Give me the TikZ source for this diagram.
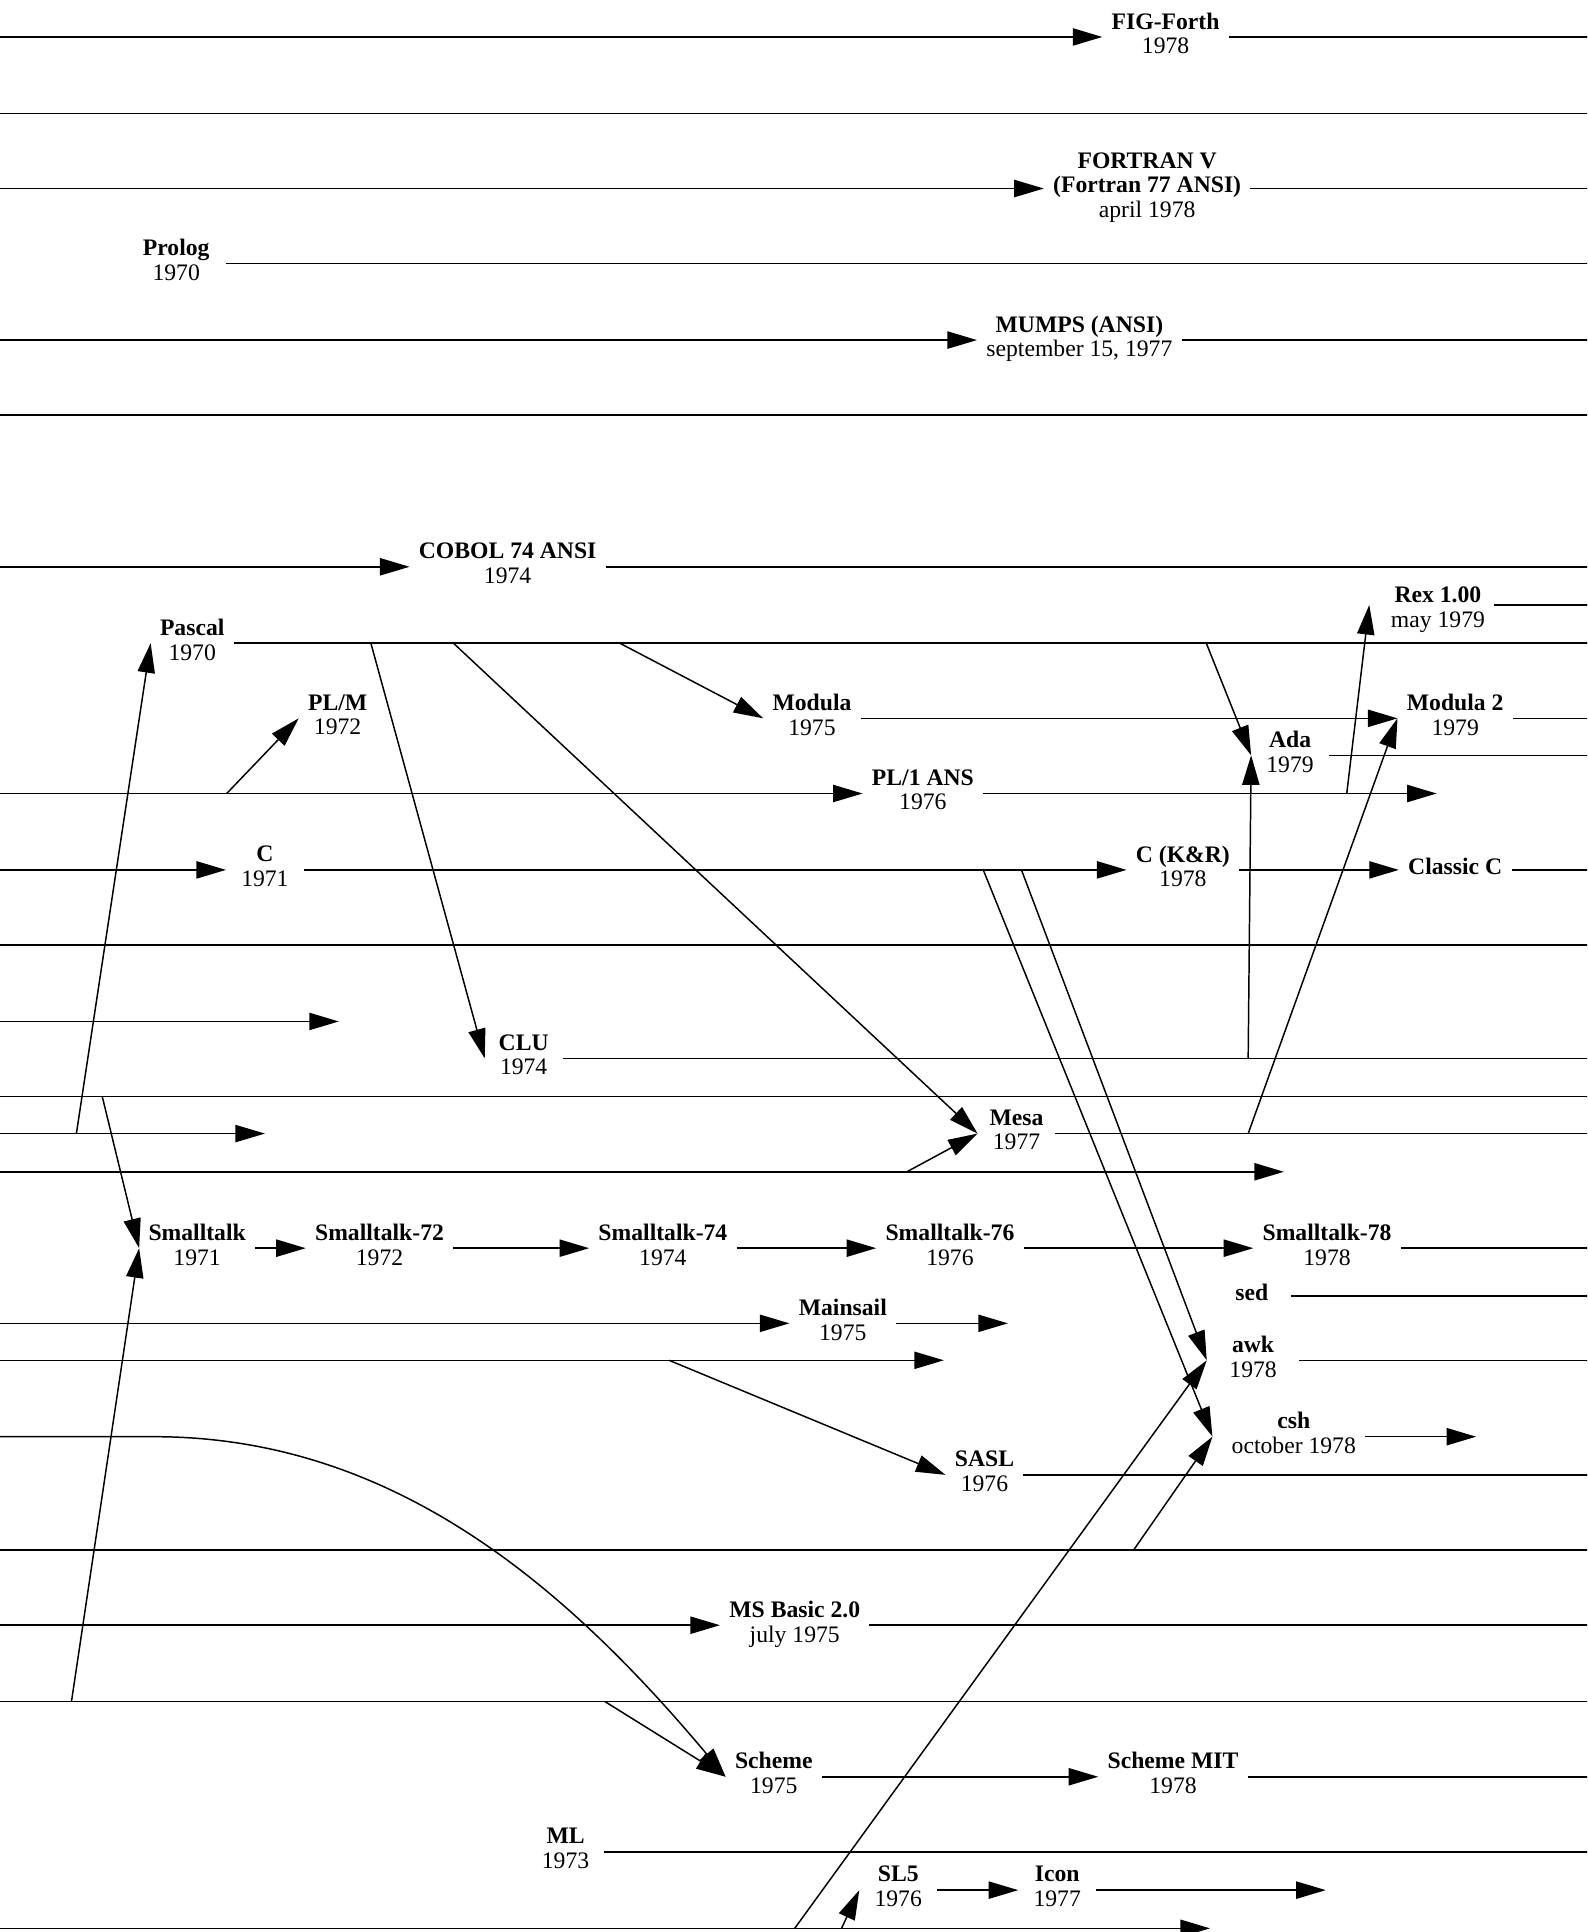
\documentclass[tikz,border=0pt]{standalone}
\usepackage{fontspec}
\setmainfont{Liberation Serif}
\usetikzlibrary{arrows.meta}

\begin{document}
\begin{tikzpicture}[x=1pt,y=-1pt,line width=1.2pt,
    >={Triangle[length=24pt,width=14pt]},
    lang/.style={align=center,inner xsep=7pt,inner ysep=0pt,minimum width=62pt,
      text depth=6pt,font=\fontsize{19.2}{20}\selectfont}]
  \useasboundingbox (0,0) rectangle (1288,1568);
  \clip (0,0) rectangle (1288,1568);

  \node[lang] (fig) at (946,30) {\textbf{FIG-Forth}\\1978};
  \node[lang] (fortran) at (931,153) {\textbf{FORTRAN V}\\\textbf{(Fortran 77 ANSI)}\\april 1978};
  \node[lang,minimum width=80pt] (prolog) at (143,214) {\textbf{Prolog}\\1970};
  \node[lang] (mumps) at (876,276) {\textbf{MUMPS (ANSI)}\\september 15, 1977};
  \node[lang] (cobol) at (412,460) {\textbf{COBOL 74 ANSI}\\1974};
  \node[lang] (rex) at (1167,496) {\textbf{Rex 1.00}\\may 1979};
  \node[lang] (pascal) at (156,522) {\textbf{Pascal}\\1970};
  \node[lang] (plm) at (274,583) {\textbf{PL/M}\\1972};
  \node[lang] (modula) at (659,583) {\textbf{Modula}\\1975};
  \node[lang] (modula2) at (1181,583) {\textbf{Modula 2}\\1979};
  \node[lang] (ada) at (1047,613) {\textbf{Ada}\\1979};
  \node[lang] (pl1) at (749,644) {\textbf{PL/1 ANS}\\1976};
  \node[lang] (c) at (215,706) {\textbf{C}\\1971};
  \node[lang] (ckr) at (960,706) {\textbf{C (K\&R)}\\1978};
  \node[lang] (classicc) at (1181,706) {\textbf{Classic C}};
  \node[lang] (clu) at (425,859) {\textbf{CLU}\\1974};
  \node[lang] (mesa) at (825,920) {\textbf{Mesa}\\1977};
  \node[lang] (st) at (160,1013) {\textbf{Smalltalk}\\1971};
  \node[lang] (st72) at (308,1013) {\textbf{Smalltalk-72}\\1972};
  \node[lang] (st74) at (538,1013) {\textbf{Smalltalk-74}\\1974};
  \node[lang] (st76) at (771,1013) {\textbf{Smalltalk-76}\\1976};
  \node[lang] (st78) at (1077,1013) {\textbf{Smalltalk-78}\\1978};
  \node[lang] (sed) at (1016,1052) {\textbf{sed}};
  \node[lang] (mainsail) at (684,1074) {\textbf{Mainsail}\\1975};
  \node[lang,minimum width=74pt] (awk) at (1017,1104) {\textbf{awk}\\1978};
  \node[lang] (csh) at (1050,1166) {\textbf{csh}\\october 1978};
  \node[lang] (sasl) at (799,1197) {\textbf{SASL}\\1976};
  \node[lang] (msbasic) at (645,1319) {\textbf{MS Basic 2.0}\\july 1975};
  \node[lang] (scheme) at (628,1442) {\textbf{Scheme}\\1975};
  \node[lang] (schememit) at (952,1442) {\textbf{Scheme MIT}\\1978};
  \node[lang] (ml) at (459,1503) {\textbf{ML}\\1973};
  \node[lang] (sl5) at (729,1534) {\textbf{SL5}\\1976};
  \node[lang] (icon) at (858,1534) {\textbf{Icon}\\1977};

  \foreach \y in {30,92,153,276,337,460,644,706,767,829,890,920,951,1074,1104,1166,1258,1319,1381,1565}
    \coordinate (w\y) at (-5,\y);
  \foreach \y in {30,92,153,214,276,337,460,491,522,583,613,706,767,859,890,920,1013,1052,1104,1197,1258,1319,1381,1442,1503}
    \coordinate (e\y) at (1295,\y);
  \foreach \y in {92,337,767,890,1258,1381}
    \draw (w\y) -- (e\y);

  \coordinate (t644) at (1166,644);
  \coordinate (t829) at (275,829);
  \coordinate (t920) at (215,920);
  \coordinate (t951) at (1042,951);
  \coordinate (t1074) at (818,1074);
  \coordinate (t1104) at (766,1104);
  \coordinate (t1166) at (1198,1166);
  \coordinate (t1534) at (1076,1534);
  \coordinate (t1565) at (982,1565);

  \coordinate (pas1) at (301,522);
  \coordinate (pas2) at (368,522);
  \coordinate (pas3) at (503,522);
  \coordinate (pas4) at (979,522);
  \coordinate (pli1) at (184,644);
  \coordinate (pli2) at (1093,644);
  \coordinate (cc1) at (798,706);
  \coordinate (cc2) at (829,706);
  \coordinate (clu1) at (1013,859);
  \coordinate (n890) at (83,890);
  \coordinate (m920) at (62,920);
  \coordinate (mesa1) at (1013,920);
  \coordinate (n951) at (736,951);
  \coordinate (n1104) at (543,1104);
  \coordinate (n1166) at (125,1166);
  \coordinate (n1258) at (920,1258);
  \coordinate (u1381) at (58,1381);
  \coordinate (v1381) at (491,1381);
  \coordinate (b1565) at (645,1565);
  \coordinate (c1565) at (683,1565);

  \draw[->] (w30) -- (fig.west);
  \draw (fig.east) -- (e30);
  \draw[->] (w153) -- (fortran.west);
  \draw (fortran.east) -- (e153);
  \draw (prolog.east) -- (e214);
  \draw[->] (w276) -- (mumps.west);
  \draw (mumps.east) -- (e276);
  \draw[->] (w460) -- (cobol.west);
  \draw (cobol.east) -- (e460);

  \draw (pascal.east) -- (e522);
  \draw[->] (pas1) -- (clu.west);
  \draw[->] (pas2) -- (mesa.west);
  \draw[->] (pas3) -- (modula.west);
  \draw[->] (pas4) -- (ada.west);
  \draw ([yshift=5pt]rex.east) -- (e491);
  \draw[->] (modula.east) -- (modula2.west);
  \draw (modula2.east) -- (e583);
  \draw (ada.east) -- (e613);

  \draw[->] (w644) -- (pl1.west);
  \draw[->] (pl1.east) -- (t644);
  \draw[->] (pli1) -- (plm.west);
  \draw[->] (pli2) -- ([xshift=-10pt,yshift=5pt]rex.west);

  \draw[->] (w706) -- (c.west);
  \draw[->] (c.east) -- (ckr.west);
  \draw[->] (ckr.east) -- (classicc.west);
  \draw (classicc.east) -- (e706);
  \draw[->] (cc1) -- ([xshift=-8pt]csh.west);
  \draw[->] (cc2) -- (awk.west);

  \draw[->] (w829) -- (t829);
  \draw (clu.east) -- (e859);
  \draw[->] (clu1) -- (ada.west);

  \draw[->] (w920) -- (t920);
  \draw[->] (m920) -- (pascal.west);
  \draw (mesa.east) -- (e920);
  \draw[->] (mesa1) -- (modula2.west);
  \draw[->] (w951) -- (t951);
  \draw[->] (n951) -- (mesa.west);

  \draw[->] (n890) -- (st.west);
  \draw[->] (u1381) -- (st.west);
  \draw[->] (st.east) -- (st72.west);
  \draw[->] (st72.east) -- (st74.west);
  \draw[->] (st74.east) -- (st76.west);
  \draw[->] (st76.east) -- (st78.west);
  \draw (st78.east) -- (e1013);

  \draw (sed.east) -- (e1052);
  \draw[->] (w1074) -- (mainsail.west);
  \draw[->] (mainsail.east) -- (t1074);
  \draw[->] (w1104) -- (t1104);
  \draw[->] (n1104) -- (sasl.west);
  \draw (awk.east) -- (e1104);
  \draw[->] (b1565) -- (awk.west);

  \draw[->] (w1166) -- (n1166) .. controls (315,1166) and (455,1282) .. (scheme.west);
  \draw[->] (csh.east) -- (t1166);
  \draw[->] (n1258) -- ([xshift=-8pt]csh.west);
  \draw (sasl.east) -- (e1197);

  \draw[->] (w1319) -- (msbasic.west);
  \draw (msbasic.east) -- (e1319);
  \draw[->] (v1381) -- (scheme.west);
  \draw[->] (scheme.east) -- (schememit.west);
  \draw (schememit.east) -- (e1442);
  \draw (ml.east) -- (e1503);

  \draw[->] (sl5.east) -- (icon.west);
  \draw[->] (icon.east) -- (t1534);
  \draw[->] (c1565) -- (sl5.west);
  \draw[->] (w1565) -- (t1565);
\end{tikzpicture}
\end{document}
